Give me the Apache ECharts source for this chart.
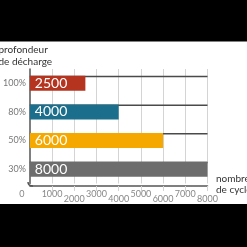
<!DOCTYPE html>
<html><head><meta charset="utf-8">
<script src="https://cdn.jsdelivr.net/npm/echarts@6/dist/echarts.min.js"></script>
<style>html,body{margin:0;padding:0;background:#fff}#c{width:247px;height:247px}</style>
</head><body><div id="c"></div>
<script>
var categories = ['30%', '50%', '80%', '100%'];
var cycles = [8000, 6000, 4000, 2500];
var barColors = ['#6d6d6d', '#f5a800', '#1c6f8c', '#b5341f'];
var xTicks = [0, 1000, 2000, 3000, 4000, 5000, 6000, 7000, 8000];
var yTitle = 'profondeur\nde décharge';
var xTitle = 'nombre\nde cycles';

var xMax = xTicks[xTicks.length - 1];
var FONT = 'Lato';
var GL = 29, GR = 39.5, GT = 69, GB = 63.5, XOFF = 2.5;
var chart = echarts.init(document.getElementById('c'), null, {renderer: 'canvas'});
var option = {
  backgroundColor: '#fff',
  animation: false,
  textStyle: {fontFamily: FONT},
  grid: {left: GL, right: GR, top: GT, bottom: GB, containLabel: false},
  xAxis: {
    type: 'value', min: xTicks[0], max: xMax, interval: xTicks[1] - xTicks[0],
    offset: XOFF,
    axisLine: {show: true, lineStyle: {color: '#555', width: 1.5}},
    axisTick: {show: true, length: 5, customValues: xTicks.slice(1), lineStyle: {color: '#d4d4d4', width: 1}},
    splitLine: {show: true, lineStyle: {color: '#d4d4d4', width: 1}},
    axisLabel: {
      margin: 4, color: '#888', fontSize: 9, fontFamily: FONT,
      formatter: function (v) {
        var i = xTicks.indexOf(v);
        if (i === 0) return '{z|' + v + '}';
        return i % 2 === 1 ? '{a|' + v + '}' : '{b|' + v + '}';
      },
      rich: {
        z: {fontSize: 9, color: '#888', padding: [0, 16, 0, 0], fontFamily: FONT},
        a: {fontSize: 9, color: '#888', fontFamily: FONT},
        b: {fontSize: 9, color: '#888', padding: [4.5, 0, 0, 0], fontFamily: FONT}
      }
    }
  },
  yAxis: {
    type: 'category', data: categories, offset: 1,
    axisLine: {show: true, lineStyle: {color: '#555', width: 1.5}},
    axisTick: {show: false},
    splitLine: {show: false},
    axisLabel: {margin: 3, color: '#777', fontSize: 9, fontFamily: FONT}
  },
  title: [
    {text: yTitle, left: -1.5, top: 43.5, padding: 0, textStyle: {fontSize: 10, fontWeight: 'normal', color: '#333', lineHeight: 12, fontFamily: FONT}},
    {text: xTitle, left: 216, top: 173, padding: 0, textStyle: {fontSize: 10, fontWeight: 'normal', color: '#333', lineHeight: 11, fontFamily: FONT}}
  ],
  series: [
    {
      type: 'bar', data: categories.map(function () { return xMax; }),
      barWidth: 1.5, barGap: '-100%', z: 1, silent: true,
      itemStyle: {color: '#4a4a4a'}
    },
    {
      type: 'bar', z: 3,
      data: cycles.map(function (v, i) { return {value: v, itemStyle: {color: barColors[i]}}; }),
      barWidth: 15, barGap: '-100%',
      label: {show: true, position: 'insideLeft', distance: 5, color: '#fff', fontSize: 14, fontFamily: FONT, fontWeight: 'normal'}
    }
  ]
};
chart.setOption(option);
var gb = 247 - GB;
var x0 = GL - 1, yb = gb + XOFF;
chart.setOption({
  graphic: [
    {type: 'bezierCurve', z: 50, shape: {x1: x0, y1: gb - 1.5, x2: x0 + 5, y2: yb, cpx1: x0, cpy1: yb}, style: {fill: null, stroke: '#555', lineWidth: 1.5}},
    {type: 'rect', z: 100, shape: {x: 0, y: 0, width: 247, height: 41.5}, style: {fill: '#000'}},
    {type: 'rect', z: 100, shape: {x: 0, y: 204, width: 247, height: 43}, style: {fill: '#000'}}
  ]
});
</script></body></html>
